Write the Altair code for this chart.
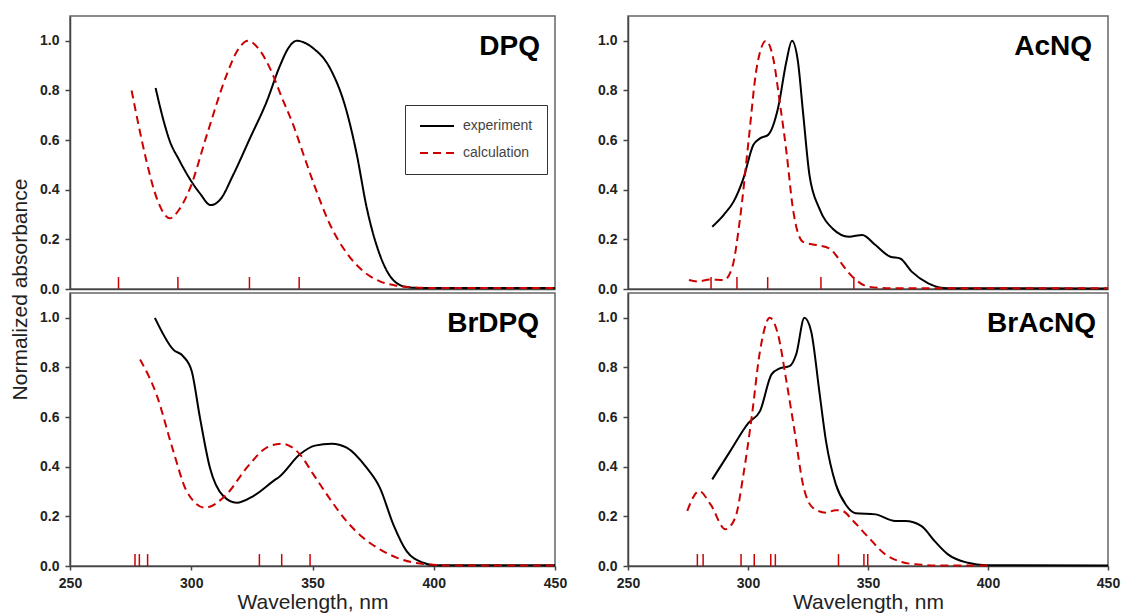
import altair as alt
import pandas as pd

panel_names = ["DPQ", "BrDPQ", "AcNQ", "BrAcNQ"]
series_names = ["experiment", "calculation"]
x_ticks = [250, 300, 350, 400, 450]
y_ticks = [0.0, 0.2, 0.4, 0.6, 0.8, 1.0]

# ---- DPQ ----
dpq_exp_wl = [285.3, 288.0, 291.0, 295.0, 299.0, 303.6, 308.0, 311.9, 317.3, 324.2, 331.1, 336.6, 340.0, 343.5,
              350.3, 357.2, 364.1, 368.2, 372.3, 377.8, 383.3, 388.8, 395.0, 450.0]
dpq_exp_abs = [0.81, 0.70, 0.60, 0.52, 0.45, 0.385, 0.338, 0.36, 0.46, 0.607, 0.755, 0.90, 0.97, 1.0,
               0.97, 0.89, 0.715, 0.545, 0.33, 0.137, 0.036, 0.008, 0.004, 0.004]
dpq_calc_wl = [275.4, 278.5, 281.6, 285.8, 291.2, 295.0, 299.5, 306.4, 314.6, 319.0, 323.5, 328.0,
               333.8, 337.0, 342.1, 346.0, 350.3, 357.2, 364.1, 370.9, 377.8, 384.7, 392.0, 400.0, 450.0]
dpq_calc_abs = [0.80, 0.65, 0.513, 0.365, 0.285, 0.32, 0.406, 0.62, 0.863, 0.96, 1.0, 0.965,
                0.86, 0.78, 0.66, 0.55, 0.43, 0.26, 0.145, 0.072, 0.031, 0.013, 0.006, 0.004, 0.004]
dpq_sticks = [270.0, 294.5, 324.0, 344.5]

# ---- BrDPQ ----
brdpq_exp_wl = [285.0, 292.6, 296.7, 300.2, 303.6, 307.7, 313.2, 318.7, 325.6, 333.8, 336.6, 344.8,
                351.0, 357.9, 364.1, 372.3, 377.8, 383.3, 388.8, 395.7, 400.0, 450.0]
brdpq_exp_abs = [1.0, 0.872, 0.845, 0.785, 0.597, 0.396, 0.282, 0.255, 0.282, 0.342, 0.362, 0.45,
                 0.485, 0.493, 0.477, 0.396, 0.315, 0.168, 0.06, 0.013, 0.003, 0.003]
brdpq_calc_wl = [278.9, 285.7, 292.6, 298.1, 305.7, 314.6, 322.9, 331.1, 337.3, 344.8, 350.3, 357.2,
                 364.1, 370.9, 377.8, 384.7, 391.5, 398.3, 410.0, 450.0]
brdpq_calc_abs = [0.832, 0.69, 0.463, 0.302, 0.235, 0.289, 0.396, 0.477, 0.493, 0.45, 0.37, 0.27,
                  0.18, 0.114, 0.067, 0.034, 0.014, 0.006, 0.002, 0.002]
brdpq_sticks = [276.8, 278.6, 282.0, 328.1, 337.3, 349.0]

# ---- AcNQ ----
acnq_exp_wl = [285.1, 290.0, 294.0, 298.1, 302.2, 305.0, 308.4, 312.5, 316.0, 318.3, 320.8, 322.9,
               325.6, 329.7, 335.2, 342.1, 347.6, 353.1, 359.3, 363.4, 368.2, 375.1, 383.3, 450.0]
acnq_exp_abs = [0.251, 0.30, 0.352, 0.446, 0.58, 0.607, 0.621, 0.728, 0.917, 1.0, 0.917, 0.715,
                0.46, 0.325, 0.244, 0.211, 0.218, 0.177, 0.13, 0.123, 0.07, 0.023, 0.003, 0.002]
acnq_calc_wl = [275.4, 278.9, 284.4, 289.9, 293.3, 296.7, 300.2, 303.6, 307.5, 310.5, 313.2, 316.0,
                318.7, 322.9, 328.4, 333.8, 336.6, 339.4, 344.2, 350.3, 360.0, 450.0]
acnq_calc_abs = [0.036, 0.03, 0.038, 0.036, 0.083, 0.285, 0.594, 0.89, 1.0, 0.93, 0.755, 0.554,
                 0.325, 0.19, 0.177, 0.164, 0.137, 0.097, 0.043, 0.009, 0.003, 0.003]
acnq_sticks = [284.6, 295.4, 308.2, 330.4, 344.1]

# ---- BrAcNQ ----
bracnq_exp_wl = [285.1, 292.6, 300.2, 305.0, 309.8, 313.2, 317.3, 320.1, 323.5, 326.3, 329.7, 332.5,
                 336.6, 340.7, 344.8, 353.1, 361.3, 365.5, 372.3, 377.8, 383.3, 391.6, 399.0, 450.0]
bracnq_exp_abs = [0.349, 0.463, 0.577, 0.624, 0.772, 0.796, 0.805, 0.853, 1.0, 0.946, 0.705, 0.503,
                  0.329, 0.248, 0.213, 0.208, 0.181, 0.181, 0.161, 0.10, 0.047, 0.013, 0.003, 0.002]
bracnq_calc_wl = [274.7, 279.6, 284.4, 290.6, 294.7, 298.1, 301.5, 305.0, 309.1, 312.5, 316.0, 319.4,
                  322.9, 327.0, 332.5, 336.6, 339.4, 343.5, 350.3, 357.2, 364.1, 370.9, 380.0, 400.0]
bracnq_calc_abs = [0.222, 0.302, 0.248, 0.148, 0.195, 0.369, 0.597, 0.866, 1.0, 0.933, 0.745, 0.544,
                   0.329, 0.235, 0.215, 0.225, 0.222, 0.185, 0.114, 0.047, 0.016, 0.006, 0.002, 0.002]
bracnq_sticks = [278.9, 281.3, 297.1, 302.6, 309.5, 311.4, 337.7, 348.3, 349.9]

RED = "#cc0000"
FONT = "Liberation Sans"
H = 273


def panel(name, exp_wl, exp_abs, calc_wl, calc_abs, sticks, bottom, first_col, with_legend, label_x, width):
    exp_df = pd.DataFrame({"wl": exp_wl, "absorb": exp_abs, "series": series_names[0]})
    calc_df = pd.DataFrame({"wl": calc_wl, "absorb": calc_abs, "series": series_names[1]})
    stick_df = pd.DataFrame({"wl": sticks})
    label_df = pd.DataFrame({"name": [name]})

    if bottom:
        xaxis = alt.Axis(values=x_ticks, format="d", title="Wavelength, nm", tickSize=4,
                         labelPadding=6, labelFlush=False, titleBaseline="alphabetic", titleY=42)
    else:
        xaxis = alt.Axis(labels=False, ticks=False, title=None)
    if first_col and not bottom:
        yaxis = alt.Axis(values=y_ticks, format=".1f", title="Normalized absorbance",
                         titleX=-50, titleY=273, titleAngle=270, titleAlign="center",
                         titleBaseline="middle", tickSize=5, labelPadding=6, labelFlush=False)
    else:
        yaxis = alt.Axis(values=y_ticks, format=".1f", title=None, tickSize=5, labelPadding=6,
                         labelFlush=False)

    x = alt.X("wl:Q", scale=alt.Scale(domain=[250, 450], nice=False, zero=False), axis=xaxis)
    y = alt.Y("absorb:Q", scale=alt.Scale(domain=[0, 1.1], nice=False), axis=yaxis)

    enc = {}
    if with_legend:
        leg = alt.Legend(orient="none", legendX=335, legendY=89, title=None,
                         symbolType="stroke", symbolSize=1156, symbolStrokeWidth=2,
                         clipHeight=14,
                         labelFont=FONT, labelFontSize=14, labelColor="#444",
                         labelOffset=8, rowPadding=13, padding=14,
                         strokeColor="#333", fillColor="white")
        enc["color"] = alt.Color("series:N", scale=alt.Scale(domain=series_names, range=["black", RED]),
                                 legend=leg)
        enc["strokeDash"] = alt.StrokeDash("series:N",
                                           scale=alt.Scale(domain=series_names, range=[[1, 0], [8, 5]]),
                                           legend=leg)

    exp_line = alt.Chart(exp_df).mark_line(strokeWidth=2, interpolate="monotone", color="black").encode(
        x=x, y=y, **enc)
    calc_line = alt.Chart(calc_df).mark_line(strokeWidth=2, interpolate="monotone", color=RED,
                                              strokeDash=[8, 5]).encode(x=x, y=y, **enc)
    stick = alt.Chart(stick_df).mark_rule(color=RED, strokeWidth=1.5).encode(
        x=x, y=alt.datum(0), y2=alt.datum(0.048))
    label = alt.Chart(label_df).mark_text(align="right", baseline="alphabetic", fontSize=28,
                                          fontWeight="bold", font=FONT, color="black").encode(
        x=alt.value(label_x), y=alt.value(39), text="name:N")
    return alt.layer(exp_line, calc_line, stick, label).properties(width=width, height=H)


p_dpq = panel(panel_names[0], dpq_exp_wl, dpq_exp_abs, dpq_calc_wl, dpq_calc_abs, dpq_sticks,
              bottom=False, first_col=True, with_legend=True, label_x=470, width=485)
p_brdpq = panel(panel_names[1], brdpq_exp_wl, brdpq_exp_abs, brdpq_calc_wl, brdpq_calc_abs, brdpq_sticks,
                bottom=True, first_col=True, with_legend=False, label_x=469, width=485)
p_acnq = panel(panel_names[2], acnq_exp_wl, acnq_exp_abs, acnq_calc_wl, acnq_calc_abs, acnq_sticks,
               bottom=False, first_col=False, with_legend=False, label_x=464, width=480)
p_bracnq = panel(panel_names[3], bracnq_exp_wl, bracnq_exp_abs, bracnq_calc_wl, bracnq_calc_abs, bracnq_sticks,
                 bottom=True, first_col=False, with_legend=False, label_x=468, width=480)

chart = alt.concat(p_dpq, p_acnq, p_brdpq, p_bracnq, columns=2,
                   spacing={"row": 4, "column": 73}, bounds="flush").resolve_scale(
    color="independent", strokeDash="independent").resolve_legend(
    color="independent", strokeDash="independent").properties(
    padding={"left": 0, "top": 7, "right": 0, "bottom": 0}
).configure_view(stroke="#666", strokeWidth=1.5).configure_axis(
    grid=False, domainColor="#444", domainWidth=1.5, tickColor="#444", tickWidth=1.5,
    labelFont=FONT, labelFontWeight="bold", labelFontSize=14, labelColor="#222",
    titleFont=FONT, titleFontSize=21, titleFontWeight="normal", titleColor="#222"
)

chart.save("out.html", embed_options={"renderer": "svg", "actions": False})
